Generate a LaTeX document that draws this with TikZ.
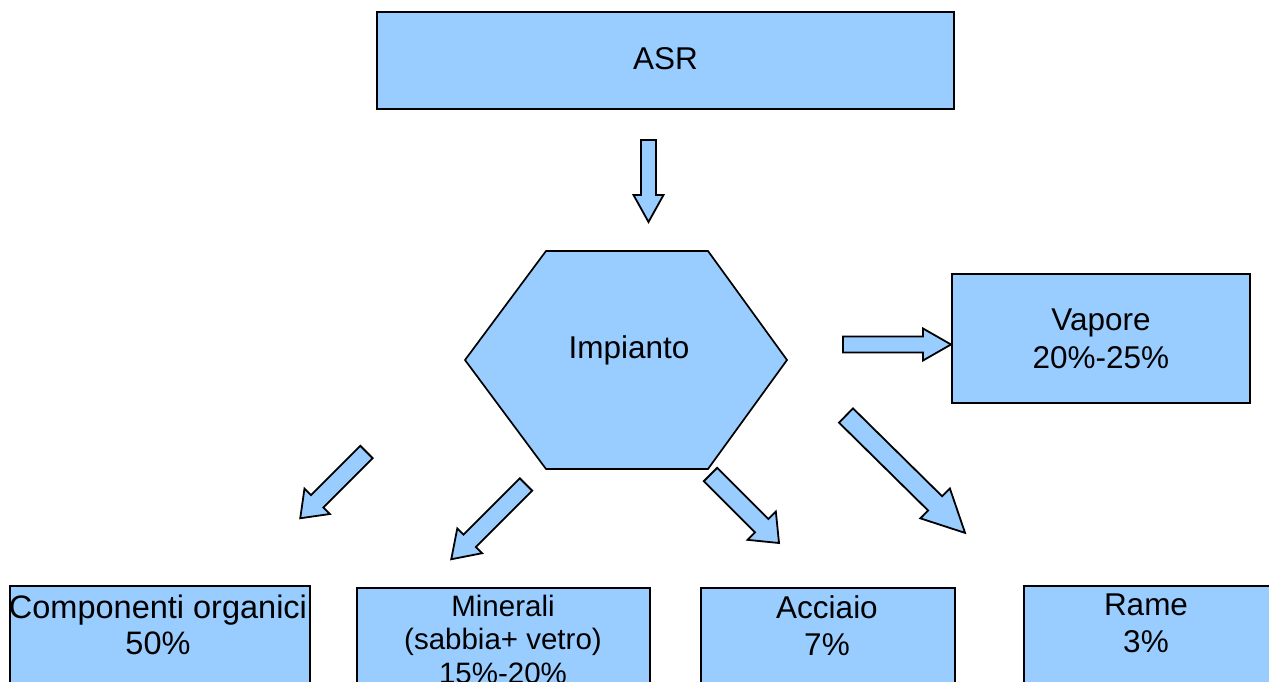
\documentclass[tikz,border=0pt]{standalone}
\usepackage{fontspec}
\setmainfont{Liberation Sans}
\definecolor{fillblue}{HTML}{99CCFF}
\tikzset{
  box/.style={draw=black, fill=fillblue, line width=1.9pt, rectangle, inner sep=0pt, anchor=north west},
  lbl/.style={align=center, inner sep=0pt, font=\fontsize{31.5}{37}\selectfont},
  smalllbl/.style={align=center, inner sep=0pt, font=\fontsize{29.5}{33.5}\selectfont},
  barrow/.style={draw=black, fill=fillblue, line width=1.8pt, line join=miter},
}
% block arrow: #1,#2 tail centre, #3 angle, #4 length, #5 shaft half width,
% #6 head half width, #7 head length
\newcommand\blockarrow[7]{%
  \begin{scope}[shift={(#1,#2)}, rotate=#3]
    \draw[barrow] (0,#5) -- ({#4-#7},#5) -- ({#4-#7},#6) -- (#4,0)
      -- ({#4-#7},-#6) -- ({#4-#7},-#5) -- (0,-#5) -- cycle;
  \end{scope}}
\begin{document}
\begin{tikzpicture}[x=1pt, y=-1pt]
  \useasboundingbox (0,0) rectangle (1269,682);
  \clip (0,0) rectangle (1269,682);

  % source box
  \node[box, minimum width=577pt, minimum height=97pt] (asr) at (376,11) {};
  \node[lbl] (asrtxt) at ([yshift=2pt]asr.center) {ASR};

  % plant hexagon
  \draw[draw=black, fill=fillblue, line width=1.7pt]
    (465,360) -- (546,251) -- (708,251) -- (787,360) -- (708,469) -- (546,469) -- cycle;
  \node[lbl] (imp) at (629,350) {Impianto};

  % vapour output
  \node[box, minimum width=298pt, minimum height=129pt] (vap) at (951,273) {};
  \node[lbl, font=\fontsize{31.5}{38}\selectfont] (vaptxt) at (vap.center) {Vapore\\20\%-25\%};

  % bottom outputs (run past the lower edge)
  \node[box, minimum width=300pt, minimum height=140pt] (comp) at (9,585) {};
  \node[box, minimum width=293pt, minimum height=140pt] (min) at (356,587) {};
  \node[box, minimum width=254pt, minimum height=140pt] (acc) at (700,587) {};
  \node[box, minimum width=246pt, minimum height=140pt] (rame) at (1023,585) {};

  \node[lbl, font=\fontsize{32.5}{36}\selectfont] (comptxt) at (158,625) {Componenti organici\\50\%};
  \node[smalllbl] (mintxt) at (503,639) {Minerali\\(sabbia+ vetro)\\15\%-20\%};
  \node[lbl] (acctxt) at (827,625.5) {Acciaio\\7\%};
  \node[lbl] (rametxt) at (1146,623.5) {Rame\\3\%};

  % flow arrows
  \blockarrow{648.5}{140}{-90}{82}{7.5}{15}{27}
  \blockarrow{843}{344.5}{0}{108}{8}{16}{28}
  \blockarrow{366.5}{452}{-135}{93.7}{8.8}{18}{24}
  \blockarrow{526}{484.5}{-135}{105.7}{8.8}{17.5}{26}
  \blockarrow{710.5}{474.5}{-45}{96.9}{9.5}{20}{24.5}
  \blockarrow{846}{415.5}{-44.6}{167.2}{10}{21}{42}
\end{tikzpicture}
\end{document}
